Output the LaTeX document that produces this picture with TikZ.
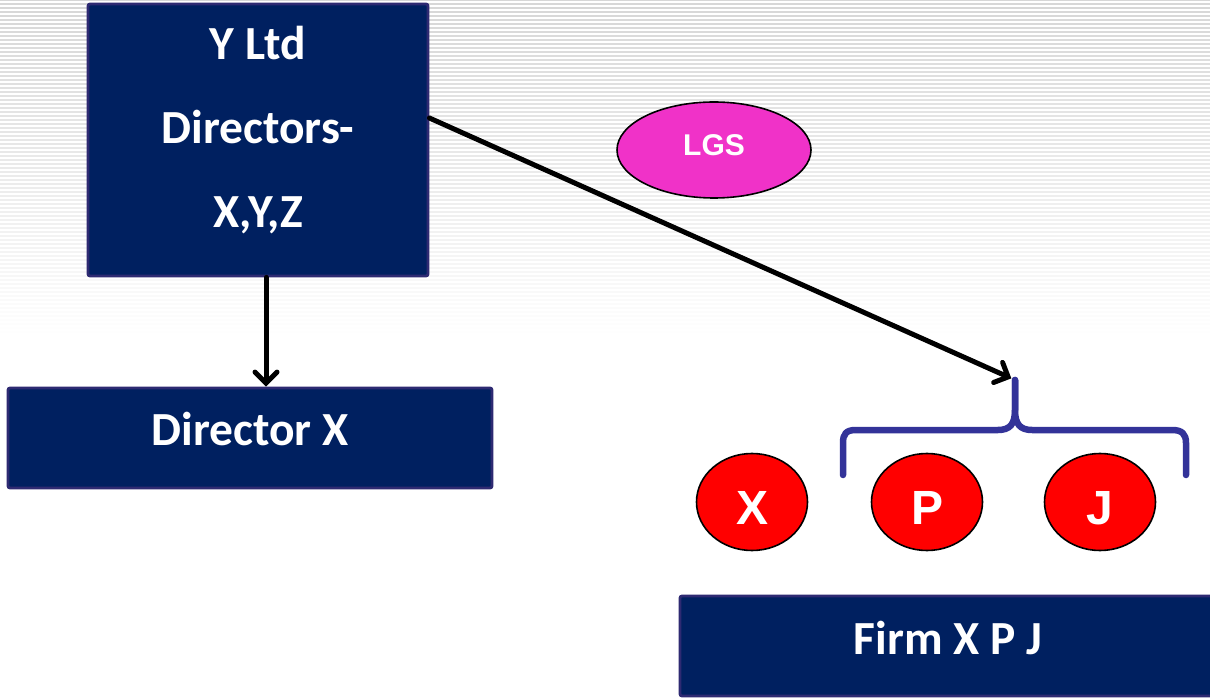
\documentclass[tikz,border=0pt]{standalone}
\usepackage{fontspec}
\setmainfont{Carlito}
\newfontfamily\arialfont{Liberation Sans}
\usetikzlibrary{arrows.meta,shapes.geometric}
\definecolor{navy}{HTML}{002060}
\definecolor{navyedge}{HTML}{2E2A72}
\definecolor{pinkfill}{HTML}{F032C8}
\definecolor{bracecol}{HTML}{333399}
\tikzset{
  bluebox/.style={rectangle, fill=navy, draw=navyedge, line width=2.8pt,
    rounded corners=2pt, text=white, align=center,
    font=\bfseries\fontsize{47.5}{84}\selectfont},
  bubble/.style={ellipse, draw=black, line width=1.6pt, text=white,
    font=\arialfont\bfseries\fontsize{48}{50}\selectfont, inner sep=0pt},
  arr/.style={line width=5pt, line cap=round,
    -{Straight Barb[length=11pt, width=22pt, line cap=round]}},
  bracestroke/.style={draw=bracecol, line width=6.5pt, line cap=round, line join=round}
}
\begin{document}
\begin{tikzpicture}[x=1pt, y=-1pt]
\useasboundingbox (0,0) rectangle (1210,700);
\clip (0,0) rectangle (1210,700);
\fill[white] (0,0) rectangle (1210,700);
% faint horizontal stripes fading out towards the middle
\foreach \i in {0,...,84} {
  \pgfmathsetmacro\op{0.16*(1-\i/85)}
  \draw[line width=1.5pt, black, opacity=\op] (0,\i*4) -- (1210,\i*4);
}

% boxes (extra text depth lifts the labels above the geometric centre)
\node[bluebox, minimum width=340pt, minimum height=272pt, text depth=26pt] (ytd) at (258,140)
  {Y Ltd\\Directors-\\X,Y,Z};
\node[bluebox, minimum width=484pt, minimum height=100pt, text depth=19pt] (dirx) at (250,438)
  {Director X};
\node[bluebox, minimum width=536pt, minimum height=100pt, text depth=16pt] (firm) at (948,646)
  {Firm X P J};

% ellipses (extra text height drops the letters slightly below centre)
\node[bubble, fill=pinkfill, minimum width=194pt, minimum height=96pt, text depth=10pt,
  font=\arialfont\bfseries\fontsize{30}{34}\selectfont] (lgs) at (714,150) {LGS};
\tikzset{partner/.style={bubble, fill=red, minimum width=111pt, minimum height=97pt,
  text height=45pt, text depth=0pt}}
\node[partner] (px) at (752,502) {X};
\node[partner] (pp) at (927,502) {P};
\node[partner] (pj) at (1100,502) {J};

% brace over the partners P and J
\coordinate (tip) at (1015,380);
\draw[bracestroke] (843,475) -- (843,443)
  .. controls (843,434) and (846,430) .. (856,430) -- (998,430)
  .. controls (1010,430) and (1015,424) .. (1015,410) -- (tip);
\draw[bracestroke] (tip) -- (1015,410)
  .. controls (1015,424) and (1020,430) .. (1032,430) -- (1172,430)
  .. controls (1182,430) and (1186,434) .. (1186,443) -- (1186,475);

% connectors
\draw[arr] ([xshift=8pt]ytd.south) -- ([xshift=8pt]ytd.south |- dirx.north);
\draw[arr, shorten >=4pt] ([yshift=22pt]ytd.east) -- (tip);
\end{tikzpicture}
\end{document}
